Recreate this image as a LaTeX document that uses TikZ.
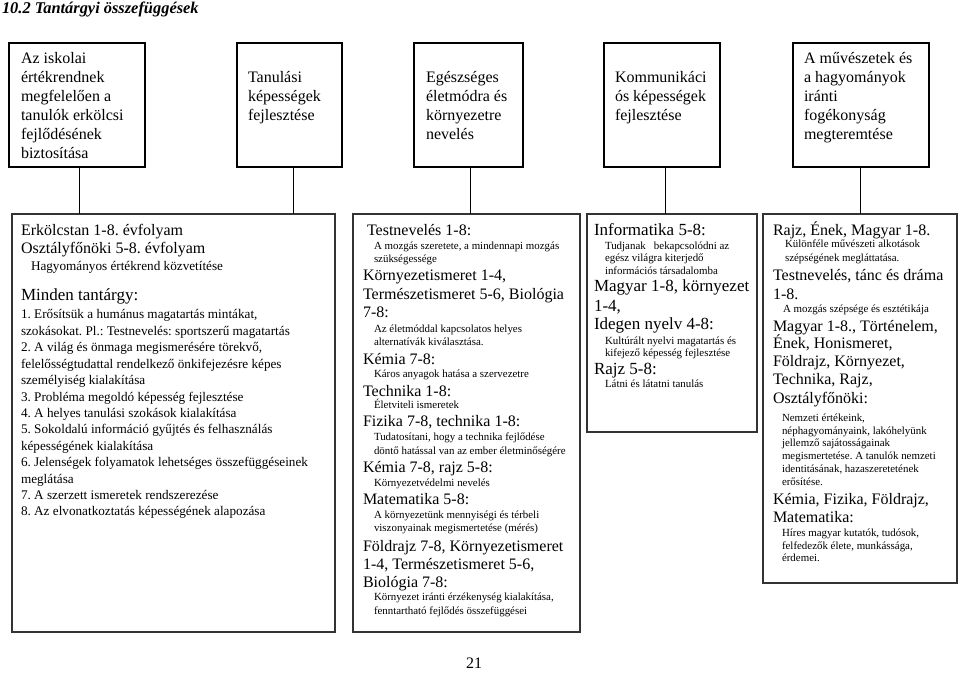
\documentclass[tikz,border=0pt]{standalone}
\usepackage{fontspec}
\setmainfont{Liberation Serif}
\frenchspacing
\begin{document}
\begin{tikzpicture}[x=1pt,y=-1pt,
  big/.style={font=\fontsize{16}{18}\selectfont},
  bigc/.style={font=\fontsize{17}{19}\selectfont},
  minden/.style={font=\fontsize{17}{19}\selectfont},
  mid/.style={font=\fontsize{13.2}{15}\selectfont},
  small/.style={font=\fontsize{10.9}{12}\selectfont},
  txt/.style={anchor=base west, inner sep=0pt, outer sep=0pt, text=black},
  topbox/.style={draw=black, line width=2pt, inner sep=0pt, outer sep=0pt},
  botbox/.style={draw=black!80, line width=1.3pt, inner sep=0pt, outer sep=0pt},
  conn/.style={draw=black, line width=1pt}]
\useasboundingbox (0,0) rectangle (960,700);
\fill[white] (0,0) rectangle (960,700);

% title
\node[txt, font=\fontsize{16.4}{18}\selectfont\bfseries\itshape] (title) at (2,13.5) {10.2 Tantárgyi összefüggések};

% top boxes
\node[topbox, minimum width=136pt, minimum height=124pt] (t1) at (77,105) {};
\node[topbox, minimum width=105pt, minimum height=124pt] (t2) at (289.5,105) {};
\node[topbox, minimum width=109pt, minimum height=124pt] (t3) at (468.5,105) {};
\node[topbox, minimum width=116pt, minimum height=124pt] (t4) at (662,105) {};
\node[topbox, minimum width=136pt, minimum height=124pt] (t5) at (861,105) {};

% bottom boxes
\node[botbox, minimum width=323pt, minimum height=418pt] (A) at (173.5,423) {};
\node[botbox, minimum width=227pt, minimum height=418pt] (B) at (466.5,423) {};
\node[botbox, minimum width=170pt, minimum height=218pt] (C) at (672,323) {};
\node[botbox, minimum width=194pt, minimum height=369pt] (D) at (860,398.5) {};

% connectors
\draw[conn] ([xshift=2pt]t1.south) -- ([xshift=2pt]t1.south |- A.north);
\draw[conn] ([xshift=3.5pt]t2.south) -- ([xshift=3.5pt]t2.south |- A.north);
\draw[conn] ([xshift=1.5pt]t3.south) -- ([xshift=1.5pt]t3.south |- B.north);
\draw[conn] ([xshift=3pt]t4.south) -- ([xshift=3pt]t4.south |- C.north);
\draw[conn] ([xshift=-1pt]t5.south) -- ([xshift=-1pt]t5.south |- D.north);

% top box texts
\foreach \px/\py/\tx [count=\i] in {
  21/64/{Az iskolai}, 21/83/{értékrendnek}, 21/102/{megfelelően a},
  21/121/{tanulók erkölcsi}, 21/140/{fejlődésének}, 21/159/{biztosítása},
  248/83/{Tanulási}, 248/102/{képességek}, 248/121/{fejlesztése},
  426/83/{Egészséges}, 426/102/{életmódra és}, 426/121/{környezetre}, 426/140/{nevelés},
  615/83/{Kommunikáci}, 615/102/{ós képességek}, 615/121/{fejlesztése},
  804/64/{A művészetek és}, 804/83/{a hagyományok}, 804/102/{iránti},
  804/121/{fogékonyság}, 804/140/{megteremtése}}
  \node[txt, big] (tt\i) at (\px,\py) {\tx};

% box A
\foreach \px/\py/\st/\tx [count=\i] in {
  21/236/big/{Erkölcstan 1-8. évfolyam},
  21/254/big/{Osztályfőnöki 5-8. évfolyam},
  31/271/mid/{Hagyományos értékrend közvetítése},
  21/301/minden/{Minden tantárgy:},
  21/319/mid/{1. Erősítsük a humánus magatartás mintákat,},
  21/335.4/mid/{szokásokat. Pl.: Testnevelés: sportszerű magatartás},
  21/351.8/mid/{2. A világ és önmaga megismerésére törekvő,},
  21/368.2/mid/{felelősségtudattal rendelkező önkifejezésre képes},
  21/384.6/mid/{személyiség kialakítása},
  21/401/mid/{3. Probléma megoldó képesség fejlesztése},
  21/417.4/mid/{4. A helyes tanulási szokások kialakítása},
  21/433.8/mid/{5. Sokoldalú információ gyűjtés és felhasználás},
  21/450.2/mid/{képességének kialakítása},
  21/466.6/mid/{6. Jelenségek folyamatok lehetséges összefüggéseinek},
  21/483/mid/{meglátása},
  21/499.4/mid/{7. A szerzett ismeretek rendszerezése},
  21/515.8/mid/{8. Az elvonatkoztatás képességének alapozása}}
  \node[txt, \st] (a\i) at (\px,\py) {\tx};

% box B
\foreach \px/\py/\st/\tx [count=\i] in {
  367/236/big/{Testnevelés 1-8:},
  374/249.5/small/{A mozgás szeretete, a mindennapi mozgás},
  374/262.5/small/{szükségessége},
  363/281/big/{Környezetismeret 1-4,},
  363/299/big/{Természetismeret 5-6, Biológia},
  363/317/big/{7-8:},
  374/332.5/small/{Az életmóddal kapcsolatos helyes},
  374/345.5/small/{alternatívák kiválasztása.},
  363/364/big/{Kémia 7-8:},
  374/377.5/small/{Káros anyagok hatása a szervezetre},
  363/396/big/{Technika 1-8:},
  374/408.5/small/{Életviteli ismeretek},
  363/426/big/{Fizika 7-8, technika 1-8:},
  374/440.5/small/{Tudatosítani, hogy a technika fejlődése},
  374/454.5/small/{döntő hatással van az ember életminőségére},
  363/472/big/{Kémia 7-8, rajz 5-8:},
  374/486.5/small/{Környezetvédelmi nevelés},
  363/504/big/{Matematika 5-8:},
  374/518.5/small/{A környezetünk mennyiségi és térbeli},
  374/531.5/small/{viszonyainak megismertetése (mérés)},
  363/551/big/{Földrajz 7-8, Környezetismeret},
  363/569/big/{1-4, Természetismeret 5-6,},
  363/587/big/{Biológia 7-8:},
  374/600.5/small/{Környezet iránti érzékenység kialakítása,},
  374/614.5/small/{fenntartható fejlődés összefüggései}}
  \node[txt, \st] (b\i) at (\px,\py) {\tx};

% box C
\foreach \px/\py/\st/\tx [count=\i] in {
  594/236/bigc/{Informatika 5-8:},
  605/249.5/small/{Tudjanak\ \ \ bekapcsolódni az},
  605/261.5/small/{egész világra kiterjedő},
  605/274.5/small/{információs társadalomba},
  594/292/bigc/{Magyar 1-8, környezet},
  594/311/bigc/{1-4,},
  594/329/bigc/{Idegen nyelv 4-8:},
  605/344.5/small/{Kultúrált nyelvi magatartás és},
  605/356.5/small/{kifejező képesség fejlesztése},
  594/374/bigc/{Rajz 5-8:},
  605/387.5/small/{Látni és látatni tanulás}}
  \node[txt, \st] (c\i) at (\px,\py) {\tx};

% box D
\foreach \px/\py/\st/\tx [count=\i] in {
  773/236/big/{Rajz, Ének, Magyar 1-8.},
  785/247.5/small/{Különféle művészeti alkotások},
  785/261.5/small/{szépségének megláttatása.},
  773/281/big/{Testnevelés, tánc és dráma},
  773/299/big/{1-8.},
  783/312.5/small/{A mozgás szépsége és esztétikája},
  773/331/big/{Magyar 1-8., Történelem,},
  773/348/big/{Ének, Honismeret,},
  773/366/big/{Földrajz, Környezet,},
  773/384/big/{Technika, Rajz,},
  773/403/big/{Osztályfőnöki:},
  782/421.5/small/{Nemzeti értékeink,},
  782/434.5/small/{néphagyományaink, lakóhelyünk},
  782/446.5/small/{jellemző sajátosságainak},
  782/459.5/small/{megismertetése. A tanulók nemzeti},
  782/472.5/small/{identitásának, hazaszeretetének},
  782/485.5/small/{erősítése.},
  773/504/big/{Kémia, Fizika, Földrajz,},
  773/522/big/{Matematika:},
  782/536.5/small/{Híres magyar kutatók, tudósok,},
  782/549.5/small/{felfedezők élete, munkássága,},
  782/561.5/small/{érdemei.}}
  \node[txt, \st] (d\i) at (\px,\py) {\tx};

% page number
\node[txt, big] (pg) at (466,668) {21};
\end{tikzpicture}
\end{document}
